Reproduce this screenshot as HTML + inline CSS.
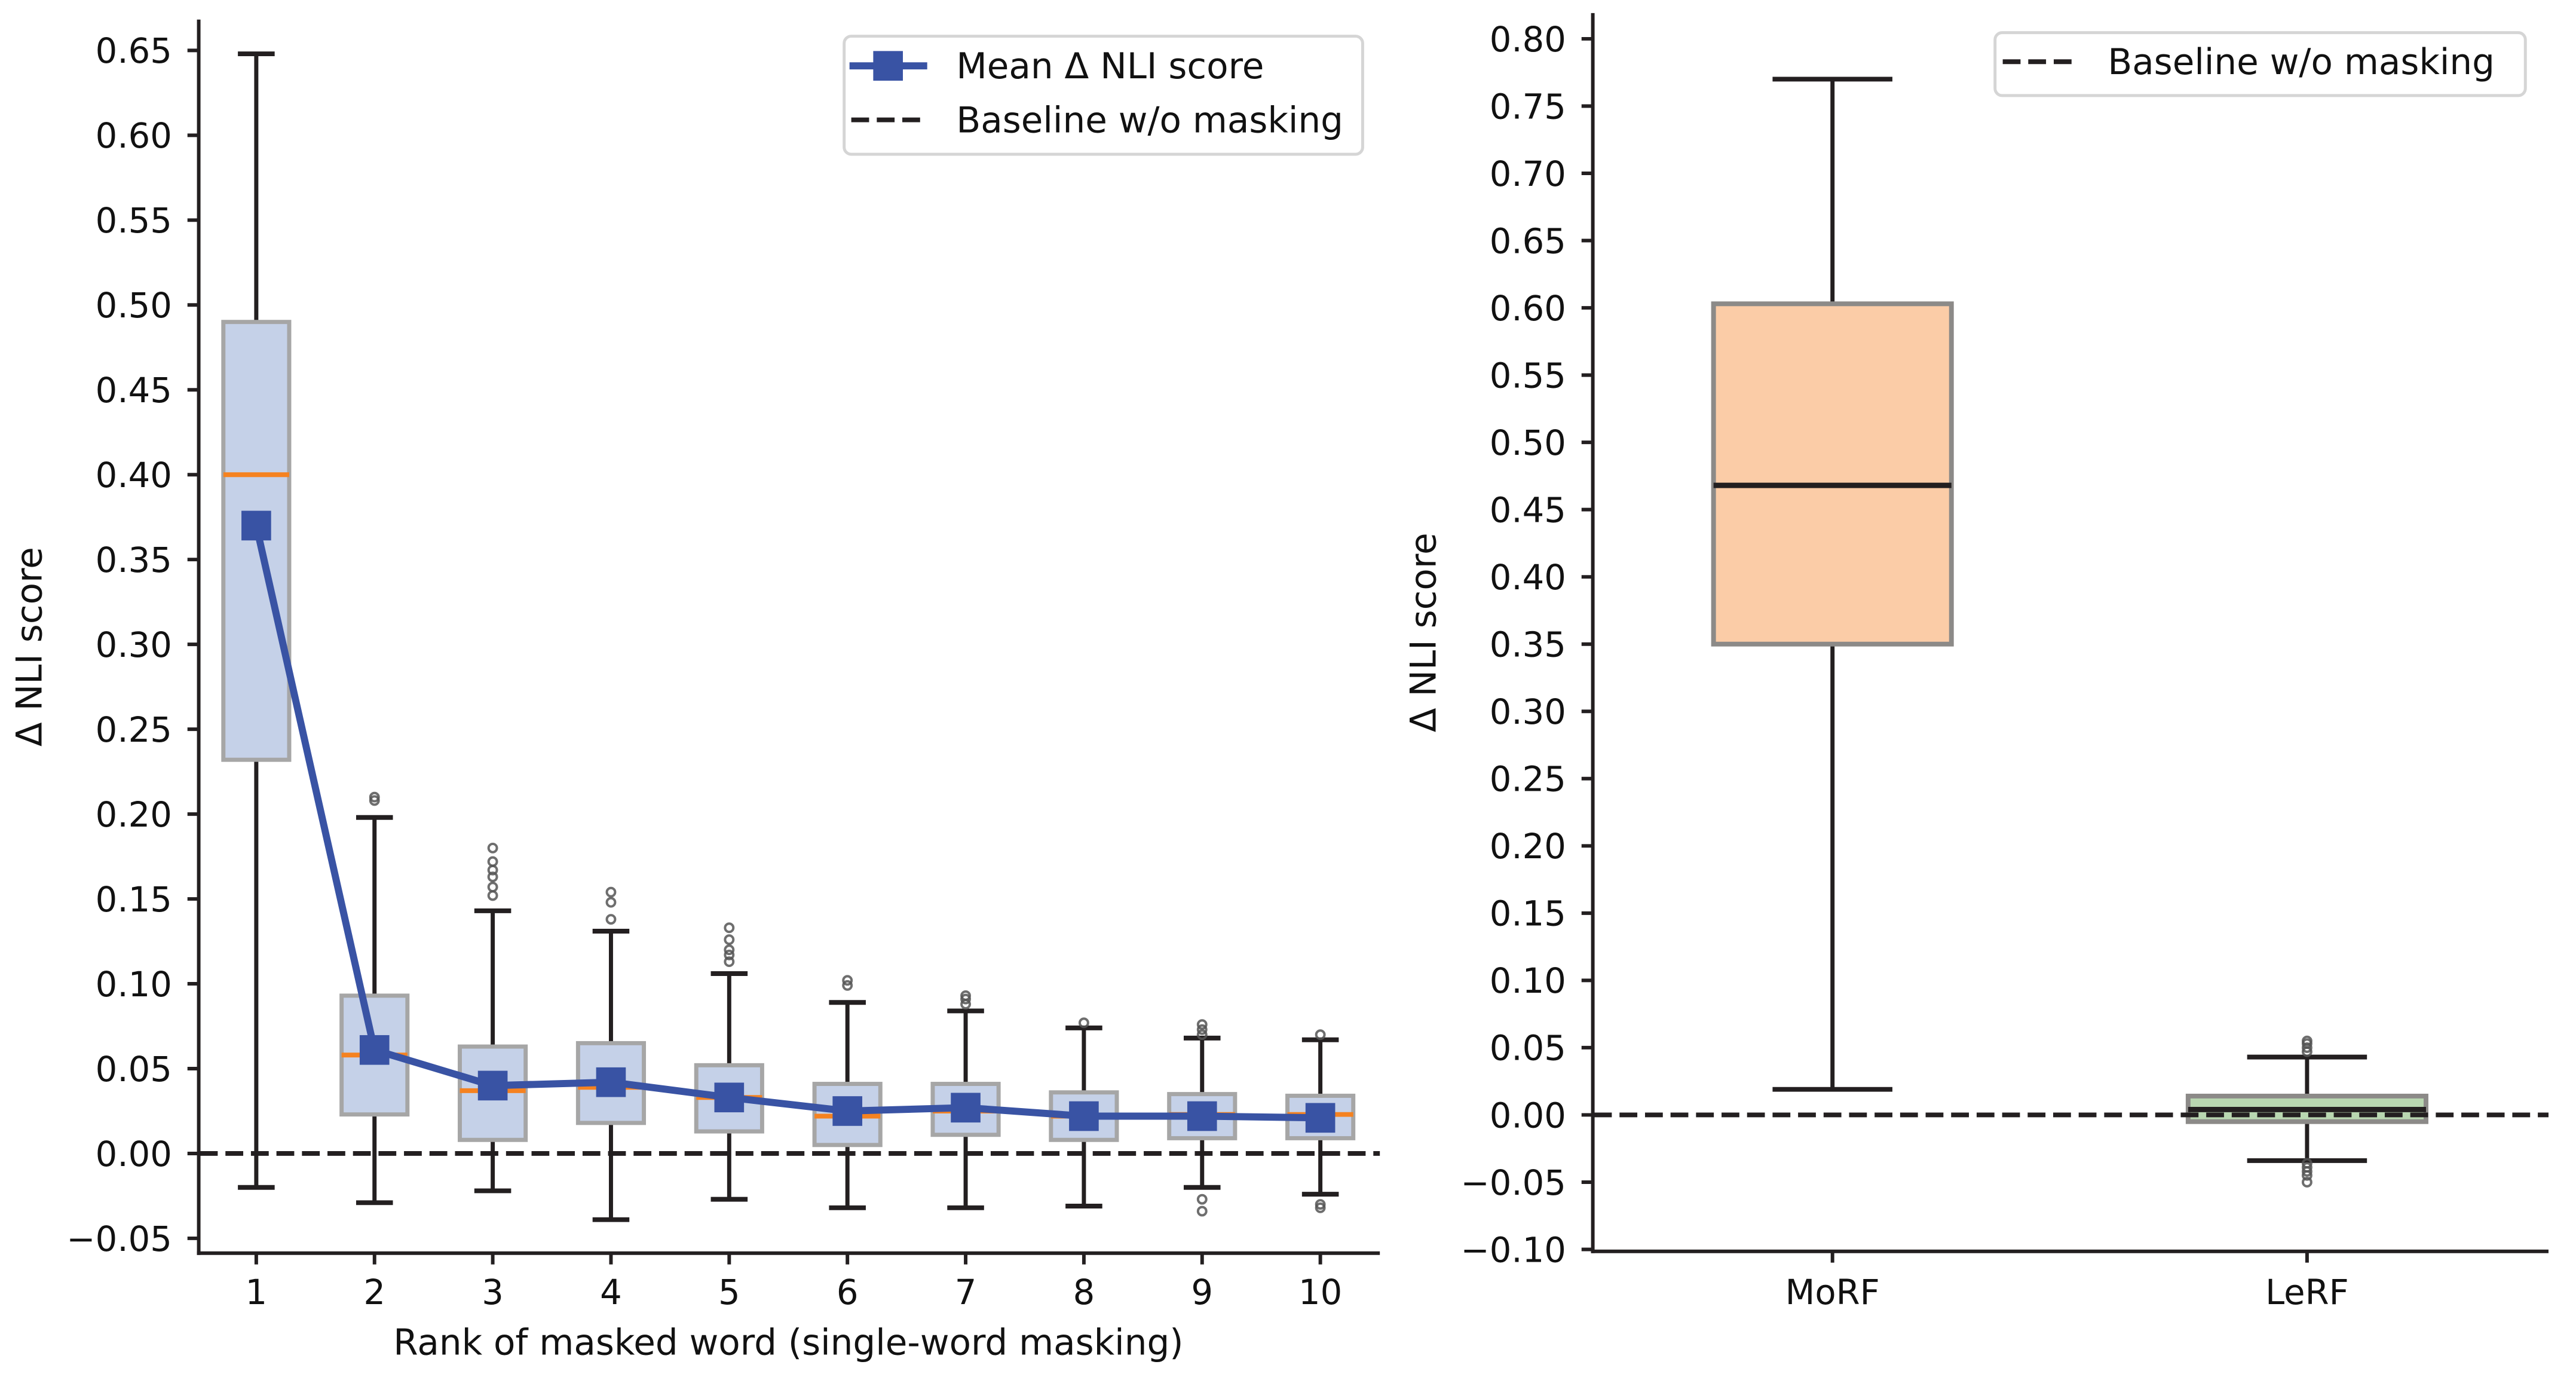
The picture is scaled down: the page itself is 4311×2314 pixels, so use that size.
<!DOCTYPE html>
<html><head><meta charset="utf-8"><style>
html,body{margin:0;padding:0;background:#fff;}
svg{display:block;font-family:"DejaVu Sans","Liberation Sans",sans-serif;}
</style></head><body>
<svg id="fig" width="4311" height="2314" viewBox="0 0 4311 2314" xmlns="http://www.w3.org/2000/svg"><g id="root" transform="scale(0.99278)"></g></svg>
<script>
// ---- Left chart data ----
const ranks = [1,2,3,4,5,6,7,8,9,10];
const leftQ1 = [0.232,0.023,0.008,0.018,0.013,0.005,0.011,0.008,0.009,0.009];
const leftQ3 = [0.490,0.093,0.063,0.065,0.052,0.041,0.041,0.036,0.035,0.034];
const leftMed = [0.400,0.058,0.037,0.039,0.033,0.022,0.025,0.022,0.023,0.023];
const leftLo = [-0.020,-0.029,-0.022,-0.039,-0.027,-0.032,-0.032,-0.031,-0.020,-0.024];
const leftHi = [0.648,0.198,0.143,0.131,0.106,0.089,0.084,0.074,0.068,0.067];
const leftMean = [0.370,0.061,0.040,0.042,0.033,0.025,0.027,0.022,0.022,0.021];
const leftOutliers = [[],[0.208,0.210],[0.152,0.157,0.163,0.167,0.172,0.180],[0.138,0.148,0.154],[0.113,0.117,0.120,0.126,0.133],[0.099,0.102],[0.088,0.091,0.093],[0.077],[0.070,0.073,0.076,-0.027,-0.034],[0.070,-0.030,-0.032]];
const leftTicks = [-0.05,0,0.05,0.10,0.15,0.20,0.25,0.30,0.35,0.40,0.45,0.50,0.55,0.60,0.65];
// ---- Right chart data ----
const methods = ["MoRF","LeRF"];
const rightQ1 = [0.350,-0.005];
const rightQ3 = [0.603,0.014];
const rightMed = [0.468,0.004];
const rightLo = [0.019,-0.034];
const rightHi = [0.770,0.043];
const rightFill = ["#fbcca7","#b9d7b1"];
const rightOutliers = [[],[0.047,0.050,0.053,0.055,-0.036,-0.039,-0.042,-0.045,-0.050]];
const rightTicks = [-0.10,-0.05,0,0.05,0.10,0.15,0.20,0.25,0.30,0.35,0.40,0.45,0.50,0.55,0.60,0.65,0.70,0.75,0.80];

const NS="http://www.w3.org/2000/svg";
const svg=document.getElementById('root');
function mk(tag,attrs,parent){const e=document.createElementNS(NS,tag);for(const k in attrs)e.setAttribute(k,attrs[k]);(parent||svg).appendChild(e);return e;}

const lx = r => 432 + (r-1)*199.3;
const ly = v => 1944 - v*2860;
const rx = i => 3089 + i*800;
const ry = v => 1879 - v*2267;
const FS=58, TS=60;
const DASH='30 13';

// ===== Left panel =====
const gL=mk('g',{});


const bl=mk('line',{x1:337,x2:2326,y1:ly(0),y2:ly(0),stroke:'#231f20','stroke-width':8,'stroke-dasharray':DASH},gL);


const bw=111;
ranks.forEach((r,i)=>{
  const g=mk('g',{},gL);
  
  
  const x=lx(r);
  mk('line',{x1:x,x2:x,y1:ly(leftHi[i]),y2:ly(leftQ3[i]),stroke:'#231f20','stroke-width':7},g);
  mk('line',{x1:x,x2:x,y1:ly(leftQ1[i]),y2:ly(leftLo[i]),stroke:'#231f20','stroke-width':7},g);
  mk('line',{x1:x-31,x2:x+31,y1:ly(leftHi[i]),y2:ly(leftHi[i]),stroke:'#231f20','stroke-width':8},g);
  mk('line',{x1:x-31,x2:x+31,y1:ly(leftLo[i]),y2:ly(leftLo[i]),stroke:'#231f20','stroke-width':8},g);
  mk('rect',{x:x-bw/2,y:ly(leftQ3[i]),width:bw,height:ly(leftQ1[i])-ly(leftQ3[i]),fill:'#c5d1e8',stroke:'#a6a6a6','stroke-width':7},g);
  mk('line',{x1:x-bw/2,x2:x+bw/2,y1:ly(leftMed[i]),y2:ly(leftMed[i]),stroke:'#f58220','stroke-width':8},g);
  leftOutliers[i].forEach(o=>{
    const c=mk('circle',{cx:x,cy:ly(o),r:7,fill:'none',stroke:'#555','stroke-width':4,opacity:0.85},g);
    
    
  });
});
const pts=ranks.map((r,i)=>lx(r)+','+ly(leftMean[i])).join(' ');
const ml=mk('polyline',{points:pts,fill:'none',stroke:'#3953a4','stroke-width':12,'stroke-linejoin':'round'},gL);


ranks.forEach((r,i)=>{
  const m=mk('rect',{x:lx(r)-25,y:ly(leftMean[i])-25,width:50,height:50,fill:'#3953a4'},gL);
  
  
});
mk('line',{x1:335,x2:335,y1:33,y2:2115,stroke:'#231f20','stroke-width':6},gL);
mk('line',{x1:332,x2:2326,y1:2112,y2:2112,stroke:'#231f20','stroke-width':6},gL);
leftTicks.forEach(t=>{
  const y=ly(t);
  mk('line',{x1:316,x2:335,y1:y,y2:y,stroke:'#231f20','stroke-width':6},gL);
  const tx=mk('text',{x:290,y:y+21,'font-size':FS,'text-anchor':'end',fill:'#111'},gL);
  tx.textContent=(t<0?'\u2212':'')+Math.abs(t).toFixed(2);
  
  
});
ranks.forEach(r=>{
  const x=lx(r);
  mk('line',{x1:x,x2:x,y1:2112,y2:2131,stroke:'#231f20','stroke-width':6},gL);
  const tx=mk('text',{x:x,y:2198,'font-size':FS,'text-anchor':'middle',fill:'#111'},gL);
  tx.textContent=r;
  
  
});
const xt=mk('text',{x:1329,y:2283,'font-size':TS,'text-anchor':'middle',fill:'#111'},gL);
xt.textContent='Rank of masked word (single-word masking)';


const yt=mk('text',{x:0,y:0,'font-size':TS,'text-anchor':'middle',fill:'#111',transform:'translate(70,1090) rotate(-90)'},gL);
yt.textContent='\u0394 NLI score';


const lg=mk('g',{},gL);


mk('rect',{x:1423,y:61,width:874,height:199,rx:12,fill:'#fff',stroke:'#d5d5d5','stroke-width':5},lg);
mk('line',{x1:1432,x2:1563,y1:111,y2:111,stroke:'#3953a4','stroke-width':12},lg);
mk('rect',{x:1472,y:86,width:50,height:50,fill:'#3953a4'},lg);
const l1=mk('text',{x:1612,y:132,'font-size':TS,fill:'#111'},lg);
l1.textContent='Mean \u0394 NLI score';


mk('line',{x1:1435,x2:1563,y1:202,y2:202,stroke:'#231f20','stroke-width':8,'stroke-dasharray':DASH},lg);
const l2=mk('text',{x:1612,y:223,'font-size':TS,fill:'#111'},lg);
l2.textContent='Baseline w/o masking';



// ===== Right panel =====
const gR=mk('g',{});


const rbw=401;
methods.forEach((m,i)=>{
  const g=mk('g',{},gR);
  
  
  const x=rx(i);
  mk('line',{x1:x,x2:x,y1:ry(rightHi[i]),y2:ry(rightQ3[i]),stroke:'#231f20','stroke-width':7},g);
  mk('line',{x1:x,x2:x,y1:ry(rightQ1[i]),y2:ry(rightLo[i]),stroke:'#231f20','stroke-width':7},g);
  mk('line',{x1:x-101,x2:x+101,y1:ry(rightHi[i]),y2:ry(rightHi[i]),stroke:'#231f20','stroke-width':8},g);
  mk('line',{x1:x-101,x2:x+101,y1:ry(rightLo[i]),y2:ry(rightLo[i]),stroke:'#231f20','stroke-width':8},g);
  mk('rect',{x:x-rbw/2,y:ry(rightQ3[i]),width:rbw,height:ry(rightQ1[i])-ry(rightQ3[i]),fill:rightFill[i],stroke:'#8c8a88','stroke-width':8},g);
  mk('line',{x1:x-rbw/2,x2:x+rbw/2,y1:ry(rightMed[i]),y2:ry(rightMed[i]),stroke:'#231f20','stroke-width':9},g);
  rightOutliers[i].forEach(o=>{
    const c=mk('circle',{cx:x,cy:ry(o),r:7,fill:'none',stroke:'#555','stroke-width':4,opacity:0.85},g);
    
    
  });
});
const bl2=mk('line',{x1:2687,x2:4296,y1:ry(0),y2:ry(0),stroke:'#231f20','stroke-width':8,'stroke-dasharray':DASH},gR);


mk('line',{x1:2685,x2:2685,y1:22,y2:2112,stroke:'#231f20','stroke-width':6},gR);
mk('line',{x1:2682,x2:4296,y1:2109,y2:2109,stroke:'#231f20','stroke-width':6},gR);
rightTicks.forEach(t=>{
  const y=ry(t);
  mk('line',{x1:2666,x2:2685,y1:y,y2:y,stroke:'#231f20','stroke-width':6},gR);
  const tx=mk('text',{x:2640,y:y+21,'font-size':FS,'text-anchor':'end',fill:'#111'},gR);
  tx.textContent=(t<-1e-9?'\u2212':'')+Math.abs(t).toFixed(2);
  
  
});
methods.forEach((m,i)=>{
  const x=rx(i);
  mk('line',{x1:x,x2:x,y1:2109,y2:2128,stroke:'#231f20','stroke-width':6},gR);
  const tx=mk('text',{x:x,y:2198,'font-size':FS,'text-anchor':'middle',fill:'#111'},gR);
  tx.textContent=m;
  
  
});
const yt2=mk('text',{x:0,y:0,'font-size':TS,'text-anchor':'middle',fill:'#111',transform:'translate(2420,1066) rotate(-90)'},gR);
yt2.textContent='\u0394 NLI score';


const lg2=mk('g',{},gR);


mk('rect',{x:3363,y:55,width:894,height:106,rx:12,fill:'#fff',stroke:'#d5d5d5','stroke-width':5},lg2);
mk('line',{x1:3376,x2:3504,y1:104,y2:104,stroke:'#231f20','stroke-width':8,'stroke-dasharray':DASH},lg2);
const l3=mk('text',{x:3553,y:125,'font-size':TS,fill:'#111'},lg2);
l3.textContent='Baseline w/o masking';


</script>
</body></html>
